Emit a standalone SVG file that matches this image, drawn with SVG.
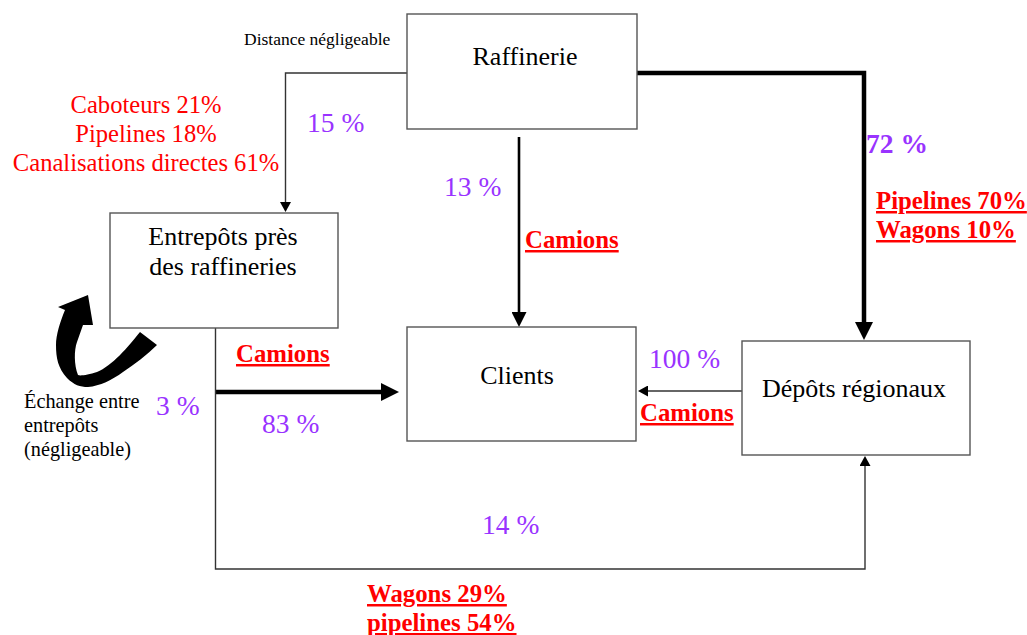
<svg xmlns="http://www.w3.org/2000/svg" width="1027" height="635" viewBox="0 0 1027 635">
  <style>
    text { font-family: "Liberation Serif", Tinos, "Times New Roman", Times, "DejaVu Serif", serif; }
    .box { fill: #ffffff; stroke: #555555; stroke-width: 1.4; }
    .label { font-size: 26px; fill: #000000; text-anchor: middle; }
    .note { fill: #000000; }
    .pct { font-size: 27.5px; fill: #9933ff; }
    .mode { font-size: 24.6px; fill: #ff0000; }
    .modeb { font-size: 24.8px; font-weight: bold; fill: #ff0000; text-decoration: underline; }
    .thin { fill: none; stroke: #333333; stroke-width: 1.4; }
    .mid { fill: none; stroke: #000000; stroke-width: 2.6; }
    .thick { fill: none; stroke: #000000; stroke-width: 4.5; stroke-linejoin: miter; }
  </style>
  <defs>
    <marker id="arrow-sm" markerUnits="userSpaceOnUse" viewBox="0 0 10 11" markerWidth="10" markerHeight="11" refX="0" refY="5.5" orient="auto">
      <path d="M0,0 L10,5.5 L0,11 Z" fill="#000000"/>
    </marker>
    <marker id="arrow-md" markerUnits="userSpaceOnUse" viewBox="0 0 15 15" markerWidth="15" markerHeight="15" refX="0" refY="7.5" orient="auto">
      <path d="M0,0 L15,7.5 L0,15 Z" fill="#000000"/>
    </marker>
    <marker id="arrow-lg" markerUnits="userSpaceOnUse" viewBox="0 0 18 18" markerWidth="18" markerHeight="18" refX="0" refY="9" orient="auto">
      <path d="M0,0 L18,9 L0,18 Z" fill="#000000"/>
    </marker>
  </defs>

  <rect width="1027" height="635" fill="#ffffff"/>

  <!-- flows between sites -->
  <g id="connectors">
    <path class="thin" d="M407,73 H285.5 V202" marker-end="url(#arrow-sm)"/>
    <path class="mid" d="M519,137 V312" marker-end="url(#arrow-md)"/>
    <path class="thick" d="M637,73 H864 V322" marker-end="url(#arrow-lg)"/>
    <path class="thick" d="M215.5,392 H381" marker-end="url(#arrow-lg)"/>
    <path class="thin" d="M215.5,328 V569 H865 V466" marker-end="url(#arrow-sm)"/>
    <path class="thin" d="M742,391 H648" marker-end="url(#arrow-sm)"/>
    <!-- exchange loop between depots -->
    <path d="M140,332 C128,347 112,366 97,372 C88,375 80,376 78,375 C74,365 74,350 77,342 L83,325 L93,325 L88,295 L58,307 L65,310 C60,322 56,335 56,345 C56,358 58,368 67,378 C74,385 80,387 88,387 C100,386 112,380 123,372 C135,364 147,355 157,345 Z" fill="#000000"/>
  </g>

  <g id="raffinerie">
    <rect class="box" x="407" y="14" width="230" height="115"/>
    <text class="label" x="525" y="65">Raffinerie</text>
  </g>

  <g id="entrepots">
    <rect class="box" x="110" y="213" width="228" height="115"/>
    <text class="label" x="223" y="245">Entrepôts près</text>
    <text class="label" x="223" y="275">des raffineries</text>
  </g>

  <g id="clients">
    <rect class="box" x="407" y="327" width="229" height="114"/>
    <text class="label" x="517" y="384">Clients</text>
  </g>

  <g id="depots">
    <rect class="box" x="742" y="341" width="228" height="114"/>
    <text class="label" x="854" y="397">Dépôts régionaux</text>
  </g>

  <g id="labels">
    <text class="note" x="244" y="45" font-size="17.5">Distance négligeable</text>
    <text class="mode" text-anchor="middle" x="146" y="113">Caboteurs 21%</text>
    <text class="mode" text-anchor="middle" x="146" y="142">Pipelines 18%</text>
    <text class="mode" text-anchor="middle" x="146" y="171">Canalisations directes 61%</text>
    <text class="pct" x="307" y="132">15 %</text>
    <text class="pct" x="444" y="196">13 %</text>
    <text class="modeb" x="525" y="248">Camions</text>
    <text class="pct" x="866" y="153" font-weight="bold" font-size="30">72 %</text>
    <text class="modeb" x="876" y="209">Pipelines 70%</text>
    <text class="modeb" x="876" y="238">Wagons 10%</text>
    <text class="modeb" x="236" y="362">Camions</text>
    <text class="pct" x="262" y="433">83 %</text>
    <text class="pct" x="156" y="415">3 %</text>
    <text class="note" x="24" y="408" font-size="20.3">Échange entre</text>
    <text class="note" x="24" y="432" font-size="20.3">entrepôts</text>
    <text class="note" x="24" y="456" font-size="20.3">(négligeable)</text>
    <text class="pct" x="649" y="368">100 %</text>
    <text class="modeb" x="640" y="421">Camions</text>
    <text class="pct" x="482" y="534">14 %</text>
    <text class="modeb" x="367" y="602">Wagons 29%</text>
    <text class="modeb" x="367" y="631">pipelines 54%</text>
  </g>
</svg>
